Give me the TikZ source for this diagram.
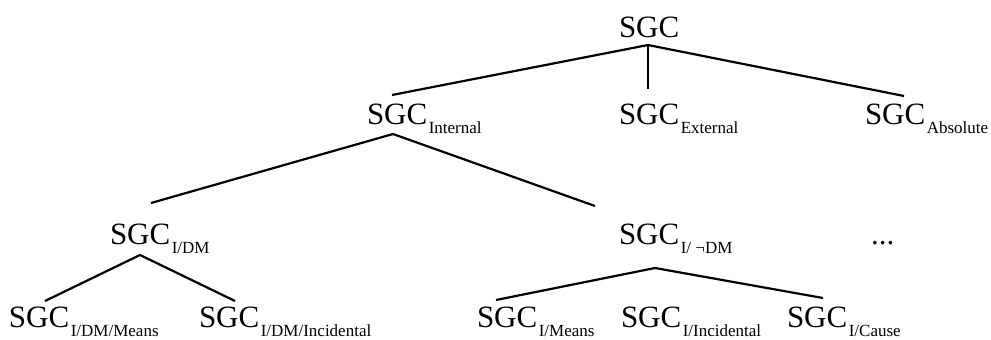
\documentclass[tikz,border=0pt]{standalone}
\usepackage{fontspec}
\setmainfont{Liberation Serif}
% label: large "SGC" followed by a lowered, smaller subscript
\newcommand\sgcbig{\fontsize{31}{31}\selectfont SGC}
\newcommand\sgcsub[1]{\sgcbig\kern1.5pt\raisebox{-9.5pt}{\fontsize{17}{17}\selectfont #1}}

\begin{document}
\begin{tikzpicture}[x=1pt,y=-1pt,
  lbl/.style={anchor=base west, inner sep=0pt, outer sep=0pt},
  branch/.style={line width=2.2pt}]
\useasboundingbox (0,0) rectangle (991,340);

% level 0
\node[lbl] (root) at (619,37) {\sgcbig};
% level 1
\node[lbl] (int) at (367,124) {\sgcsub{Internal}};
\node[lbl] (ext) at (619,124) {\sgcsub{External}};
\node[lbl] (abs) at (865,124) {\sgcsub{Absolute}};
% level 2
\node[lbl] (idm) at (110,244) {\sgcsub{I/DM}};
\node[lbl] (indm) at (619,244) {\sgcsub{I/ ¬DM}};
\node[lbl] (more) at (871,244) {\fontsize{31}{31}\selectfont ...};
% level 3
\node[lbl] (dmmeans) at (9,327) {\sgcsub{I/DM/Means}};
\node[lbl] (dminc) at (199,327) {\sgcsub{I/DM/Incidental}};
\node[lbl] (imeans) at (477,327) {\sgcsub{I/Means}};
\node[lbl] (iinc) at (621,327) {\sgcsub{I/Incidental}};
\node[lbl] (icause) at (787,327) {\sgcsub{I/Cause}};

% branch points and branch ends
\coordinate (root-b) at (648,45);
\coordinate (int-t) at (392,95);
\coordinate (ext-t) at (648,89);
\coordinate (abs-t) at (904,96);
\coordinate (int-b) at (393,134);
\coordinate (idm-t) at (151,203);
\coordinate (indm-t) at (595,206);
\coordinate (idm-b) at (140,255);
\coordinate (dmmeans-t) at (45,301);
\coordinate (dminc-t) at (235,301);
\coordinate (indm-b) at (655,268);
\coordinate (imeans-t) at (496,300);
\coordinate (icause-t) at (823,298);

\draw[branch] (root-b) -- (int-t);
\draw[branch] (root-b) -- (ext-t);
\draw[branch] (root-b) -- (abs-t);
\draw[branch] (int-b) -- (idm-t);
\draw[branch] (int-b) -- (indm-t);
\draw[branch] (idm-b) -- (dmmeans-t);
\draw[branch] (idm-b) -- (dminc-t);
\draw[branch] (indm-b) -- (imeans-t);
\draw[branch] (indm-b) -- (icause-t);
\end{tikzpicture}
\end{document}
